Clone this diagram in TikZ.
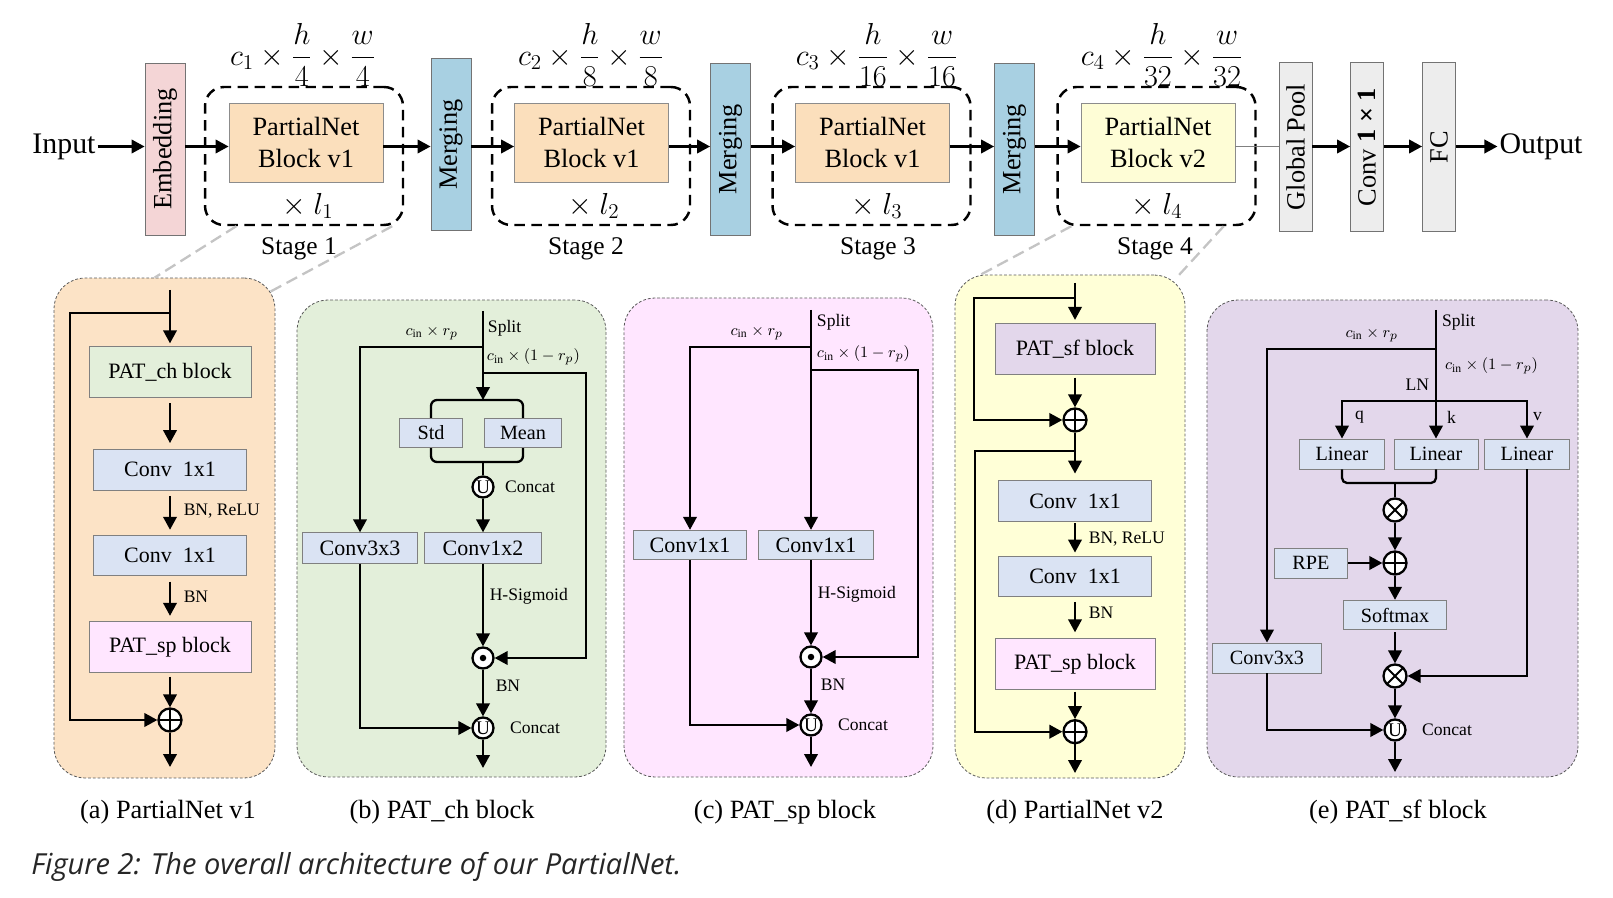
\documentclass[tikz,border=0pt]{standalone}
\usepackage{fontspec}
\usepackage{amsmath}
\usepackage{graphicx}
\setmainfont{Liberation Serif}
\newfontfamily\figfont{Open Sans}
\usetikzlibrary{arrows.meta, positioning}

\definecolor{embpink}{HTML}{F4D5D6}
\definecolor{mrgblue}{HTML}{A8D0E2}
\definecolor{blkorange}{HTML}{FBDFBC}
\definecolor{blkyellow}{HTML}{FEFDD6}
\definecolor{poolgray}{HTML}{EDEDED}
\definecolor{bgorange}{HTML}{FCE3C6}
\definecolor{bggreen}{HTML}{E3EFDA}
\definecolor{bgpink}{HTML}{FFE6FF}
\definecolor{bgyellow}{HTML}{FFFFD7}
\definecolor{bgpurple}{HTML}{E3D7EB}
\definecolor{convblue}{HTML}{DAE3F3}
\definecolor{zoomgray}{HTML}{C4C4C4}

\begin{document}
\begin{tikzpicture}[
    x=0.02cm, y=-0.02cm,
    every node/.style={align=center, inner sep=2pt},
    arr/.style={line width=1.3pt, -{Triangle[length=0.26cm, width=0.27cm]}},
    lin/.style={line width=1.3pt},
    gapped/.style={shorten <=0.11cm, shorten >=0.11cm},
    bar/.style={draw=black!55, line width=0.5pt, minimum width=0.8cm, minimum height=3.44cm, inner sep=0pt, font=\fontsize{15}{18}\selectfont},
    slim/.style={bar, minimum width=0.66cm, minimum height=3.38cm, fill=poolgray},
    blk/.style={draw=black!45, line width=0.5pt, minimum width=3.08cm, minimum height=1.58cm, font=\fontsize{15}{18}\selectfont},
    stage/.style={draw, line width=1.4pt, dash pattern=on 0.21cm off 0.13cm, rounded corners=0.38cm, minimum width=3.96cm, minimum height=2.76cm},
    dims/.style={font=\fontsize{16.5}{19}\selectfont},
    big/.style={font=\fontsize{14.5}{17}\selectfont},
    mult/.style={font=\fontsize{17.5}{20}\selectfont},
    io/.style={font=\fontsize{17}{20}\selectfont, inner sep=1pt},
    panel/.style={draw=black!65, line width=0.45pt, dash pattern=on 1.6pt off 1.1pt, rounded corners=0.62cm},
    zoomln/.style={draw=zoomgray, line width=1.3pt, dash pattern=on 0.24cm off 0.12cm},
    box/.style={draw=black!50, line width=0.5pt, inner sep=0pt, font=\fontsize{12.5}{15}\selectfont},
    sbox/.style={box, font=\fontsize{11.5}{14}\selectfont},
    lbl/.style={font=\fontsize{10}{12}\selectfont, inner sep=1.5pt},
    mlbl/.style={font=\fontsize{9.5}{11}\selectfont, inner sep=1.5pt},
    op/.style={draw, circle, line width=1.3pt, fill=white, minimum size=0.42cm, inner sep=0pt},
    plusop/.style={op, minimum size=0.46cm, path picture={\draw[black, line width=1.1pt]
        (path picture bounding box.north) -- (path picture bounding box.south)
        (path picture bounding box.west) -- (path picture bounding box.east);}},
    timesop/.style={op, minimum size=0.46cm, path picture={\draw[black, line width=1.1pt]
        (path picture bounding box.north west) -- (path picture bounding box.south east)
        (path picture bounding box.north east) -- (path picture bounding box.south west);}},
    dotop/.style={op, path picture={\fill[black] (path picture bounding box.center) circle (0.065cm);}},
    catop/.style={op, font=\fontsize{11}{11}\selectfont},
    subcap/.style={font=\fontsize{15}{18}\selectfont}
]
    \path[fill=white] (0,0) rectangle (1613,898);
    \useasboundingbox (0,0) rectangle (1613,898);

    % panels
    \node[panel, fill=bgorange, minimum width=4.42cm, minimum height=10cm] (pa) at (164.5, 528) {};
    \node[panel, fill=bggreen, minimum width=6.18cm, minimum height=9.54cm] (pb) at (451.5, 538.5) {};
    \node[panel, fill=bgpink, minimum width=6.18cm, minimum height=9.58cm] (pc) at (778.5, 537.5) {};
    \node[panel, fill=bgyellow, minimum width=4.6cm, minimum height=10.06cm] (pd) at (1070, 526.5) {};
    \node[panel, fill=bgpurple, minimum width=7.42cm, minimum height=9.54cm] (pe) at (1392.5, 538.5) {};

    % top row
    \coordinate (axis) at (0, 146.5);
    \node[io] (inp) at (64, 146.5) {Input};
    \node[bar, fill=embpink] (emb) at (165, 149) {\rotatebox{90}{Embedding}};
    \node[stage] (st1) at (304, 156) {};
    \node[stage] (st2) at (591, 156) {};
    \node[stage] (st3) at (871.5, 156) {};
    \node[stage] (st4) at (1156.5, 156) {};
    \node[blk, fill=blkorange] (b1) at (306, 142.5) {PartialNet\\Block v1};
    \node[blk, fill=blkorange] (b2) at (591.5, 142.5) {PartialNet\\Block v1};
    \node[blk, fill=blkorange] (b3) at (872.5, 142.5) {PartialNet\\Block v1};
    \node[blk, fill=blkyellow] (b4) at (1158, 142.5) {PartialNet\\Block v2};
    \node[bar, fill=mrgblue] (m1) at (451, 144.5) {\rotatebox{90}{Merging}};
    \node[bar, fill=mrgblue] (m2) at (730.5, 149) {\rotatebox{90}{Merging}};
    \node[bar, fill=mrgblue] (m3) at (1014.5, 149) {\rotatebox{90}{Merging}};
    \node[slim] (gp) at (1295.5, 147) {\rotatebox{90}{Global Pool}};
    \node[slim] (cv) at (1367, 147) {\rotatebox{90}{Conv \textbf{1 × 1}}};
    \node[slim] (fc) at (1439, 147) {\rotatebox{90}{FC}};
    \node[io] (outp) at (1541, 146.5) {Output};

    \node[dims] (d1) at (303, 55) {$c_1 \times \dfrac{h}{4} \times \dfrac{w}{4}$};
    \node[dims] (d2) at (591, 55) {$c_2 \times \dfrac{h}{8} \times \dfrac{w}{8}$};
    \node[dims] (d3) at (877, 55) {$c_3 \times \dfrac{h}{16} \times \dfrac{w}{16}$};
    \node[dims] (d4) at (1162, 55) {$c_4 \times \dfrac{h}{32} \times \dfrac{w}{32}$};
    \node[mult] (n1) at (308, 206) {$\times\ l_1$};
    \node[mult] (n2) at (594, 206) {$\times\ l_2$};
    \node[mult] (n3) at (877, 206) {$\times\ l_3$};
    \node[mult] (n4) at (1157, 206) {$\times\ l_4$};
    \node[big] (s1) at (299, 249) {Stage 1};
    \node[big] (s2) at (586, 249) {Stage 2};
    \node[big] (s3) at (878, 249) {Stage 3};
    \node[big] (s4) at (1155, 249) {Stage 4};

    \draw[arr] (inp) -- (emb.west |- axis);
    \draw[arr] (emb.east |- axis) -- (b1.west |- axis);
    \draw[arr] (b1.east |- axis) -- (m1.west |- axis);
    \draw[arr] (m1.east |- axis) -- (b2.west |- axis);
    \draw[arr] (b2.east |- axis) -- (m2.west |- axis);
    \draw[arr] (m2.east |- axis) -- (b3.west |- axis);
    \draw[arr] (b3.east |- axis) -- (m3.west |- axis);
    \draw[arr] (m3.east |- axis) -- (b4.west |- axis);
    \draw[black!50, line width=0.6pt] (b4.east |- axis) -- (gp.west |- axis);
    \draw[arr] (gp.east |- axis) -- (cv.west |- axis);
    \draw[arr] (cv.east |- axis) -- (fc.west |- axis);
    \draw[arr] (fc.east |- axis) -- (outp);

    % zoom lines
    \draw[zoomln] ([xshift=0.65cm]st1.south west) -- ([xshift=2.02cm]pa.north west);
    \draw[zoomln] ([xshift=-0.24cm]st1.south east) -- ([xshift=-0.1cm, yshift=-0.28cm]pa.north east);
    \draw[zoomln] ([xshift=0.3cm]st4.south west) -- ([xshift=0.52cm]pd.north west);
    \draw[zoomln] ([xshift=-0.66cm]st4.south east) -- ([xshift=-0.14cm, yshift=-0.02cm]pd.north east);

    % (a) PartialNet v1
    \coordinate (a_in) at (170, 290);
    \coordinate (a_fork) at (170, 312.7);
    \node[box, fill=bggreen, minimum width=3.24cm, minimum height=1.01cm] (a_ch) at (170, 372) {PAT\_ch block};
    \node[box, fill=convblue, minimum width=3.06cm, minimum height=0.82cm] (a_c1) at (170, 469.5) {Conv~ 1x1};
    \node[box, fill=convblue, minimum width=3.06cm, minimum height=0.8cm] (a_c2) at (170, 555.7) {Conv~ 1x1};
    \node[box, fill=bgpink, minimum width=3.24cm, minimum height=1.01cm] (a_sp) at (170, 647) {PAT\_sp block};
    \node[plusop] (a_add) at (170, 720) {};
    \coordinate (a_out) at (170, 767);
    \draw[arr, shorten >=0.06cm] (a_in) -- (a_ch);
    \draw[arr] (a_fork) -- ++(-100, 0) |- (a_add);
    \draw[arr, gapped] (a_ch) -- (a_c1);
    \draw[arr, gapped] (a_c1) -- node[lbl, right=0.2cm, pos=0.45] (a_t1) {BN, ReLU} (a_c2);
    \draw[arr, gapped] (a_c2) -- node[lbl, right=0.2cm, pos=0.46] (a_t2) {BN} (a_sp);
    \draw[arr, shorten <=0.08cm] (a_sp) -- (a_add);
    \draw[arr] (a_add) -- (a_out);

    % (b) PAT_ch block
    \coordinate (b_in) at (483, 311);
    \coordinate (b_fl) at (483, 347);
    \coordinate (b_fr) at (483, 373);
    \coordinate (b_top) at (483, 400);
    \node[sbox, fill=convblue, minimum width=1.27cm, minimum height=0.59cm] (b_std) at (431, 433) {Std};
    \node[sbox, fill=convblue, minimum width=1.55cm, minimum height=0.59cm] (b_mean) at (523, 433) {Mean};
    \coordinate (b_bot) at (483, 462);
    \node[catop] (b_cat1) at (483, 487) {U};
    \node[box, fill=convblue, minimum width=2.3cm, minimum height=0.61cm] (b_c3) at (360, 548) {Conv3x3};
    \node[box, fill=convblue, minimum width=2.35cm, minimum height=0.61cm] (b_c12) at (483, 548) {Conv1x2};
    \node[dotop] (b_mul) at (483, 658) {};
    \node[catop] (b_cat2) at (483, 728) {U};
    \coordinate (b_out) at (483, 768);
    \draw[arr] (b_in) -- (b_top);
    \draw[lin, rounded corners=0.12cm] (b_std) |- (b_top) -| (b_mean);
    \draw[lin, rounded corners=0.12cm] (b_std) |- (b_bot) -| (b_mean);
    \draw[lin] (b_bot) -- (b_cat1);
    \draw[arr] (b_cat1) -- (b_c12);
    \draw[arr] (b_fl) -| (b_c3);
    \draw[arr] (b_fr) -- ++(103, 0) |- (b_mul);
    \draw[arr] (b_c12) -- node[lbl, right=0.06cm, pos=0.4] (b_t1) {H-Sigmoid} (b_mul);
    \draw[arr] (b_mul) -- node[lbl, right=0.18cm, pos=0.35] (b_t2) {BN} (b_cat2);
    \draw[arr] (b_c3) |- (b_cat2);
    \draw[arr] (b_cat2) -- (b_out);
    \node[lbl, right] (b_t3) at (485, 328) {Split};
    \node[mlbl, left] (b_t4) at (461, 333) {$c_{\text{in}} \times r_p$};
    \node[mlbl, right] (b_t5) at (484, 357) {$c_{\text{in}} \times (1 - r_p)$};
    \node[lbl, right=0.15cm of b_cat1] (b_t6) {Concat};
    \node[lbl, right=0.25cm of b_cat2] (b_t7) {Concat};

    % (c) PAT_sp block
    \coordinate (c_in) at (811, 310);
    \coordinate (c_fl) at (811, 347);
    \coordinate (c_fr) at (811, 370);
    \node[box, fill=convblue, minimum width=2.27cm, minimum height=0.59cm] (c_cl) at (690, 545) {Conv1x1};
    \node[box, fill=convblue, minimum width=2.29cm, minimum height=0.59cm] (c_cr) at (816, 545) {Conv1x1};
    \node[dotop] (c_mul) at (811, 657) {};
    \node[catop] (c_cat) at (811, 725) {U};
    \coordinate (c_out) at (811, 767);
    \draw[arr] (c_in) -- (c_in |- c_cr.north);
    \draw[arr] (c_fl) -| (c_cl);
    \draw[arr] (c_fr) -- ++(107, 0) |- (c_mul);
    \draw[arr] (c_cr.south -| c_mul) -- node[lbl, right=0.06cm, pos=0.4] (c_t1) {H-Sigmoid} (c_mul);
    \draw[arr] (c_mul) -- node[lbl, right=0.12cm, pos=0.35] (c_t2) {BN} (c_cat);
    \draw[arr] (c_cl) |- (c_cat);
    \draw[arr] (c_cat) -- (c_out);
    \node[lbl, right] (c_t3) at (814, 322) {Split};
    \node[mlbl, left] (c_t4) at (786, 333) {$c_{\text{in}} \times r_p$};
    \node[mlbl, right] (c_t5) at (814, 354) {$c_{\text{in}} \times (1 - r_p)$};
    \node[lbl, right=0.25cm of c_cat] (c_t6) {Concat};

    % (d) PartialNet v2
    \coordinate (d_in) at (1075, 283);
    \coordinate (d_f1) at (1075, 298.3);
    \node[box, fill=bgpurple, minimum width=3.2cm, minimum height=1.02cm] (d_sf) at (1075, 348.8) {PAT\_sf block};
    \node[plusop] (d_add1) at (1075, 420) {};
    \coordinate (d_f2) at (1075, 451);
    \node[box, fill=convblue, minimum width=3.05cm, minimum height=0.82cm] (d_c1) at (1075, 501) {Conv~ 1x1};
    \node[box, fill=convblue, minimum width=3.05cm, minimum height=0.8cm] (d_c2) at (1075, 576) {Conv~ 1x1};
    \node[box, fill=bgpink, minimum width=3.2cm, minimum height=1.03cm] (d_sp) at (1075, 664) {PAT\_sp block};
    \node[plusop] (d_add2) at (1075, 731.7) {};
    \coordinate (d_out) at (1075, 773);
    \draw[arr, shorten >=0.06cm] (d_in) -- (d_sf);
    \draw[arr] (d_f1) -- ++(-101, 0) |- (d_add1);
    \draw[arr, shorten <=0.06cm] (d_sf) -- (d_add1);
    \draw[arr, shorten >=0.13cm] (d_add1) -- (d_c1);
    \draw[arr] (d_f2) -- ++(-100, 0) |- (d_add2);
    \draw[arr, shorten <=0.03cm, shorten >=0.06cm] (d_c1) -- node[lbl, right=0.2cm, pos=0.52] (d_t1) {BN, ReLU} (d_c2);
    \draw[arr, gapped] (d_c2) -- node[lbl, right=0.2cm, pos=0.39] (d_t2) {BN} (d_sp);
    \draw[arr, shorten <=0.03cm] (d_sp) -- (d_add2);
    \draw[arr] (d_add2) -- (d_out);

    % (e) PAT_sf block
    \coordinate (e_in) at (1436, 310);
    \coordinate (e_fl) at (1436, 349);
    \coordinate (e_fork) at (1436, 401);
    \node[sbox, fill=convblue, minimum width=1.71cm, minimum height=0.6cm] (e_lq) at (1342, 454) {Linear};
    \node[sbox, fill=convblue, minimum width=1.68cm, minimum height=0.6cm] (e_lk) at (1436, 454) {Linear};
    \node[sbox, fill=convblue, minimum width=1.69cm, minimum height=0.6cm] (e_lv) at (1527, 454) {Linear};
    \coordinate (e_join) at (1395, 483);
    \node[timesop] (e_mul1) at (1395, 510) {};
    \node[plusop] (e_add) at (1395, 563) {};
    \node[sbox, fill=convblue, minimum width=1.47cm, minimum height=0.6cm] (e_rpe) at (1311, 563) {RPE};
    \node[sbox, fill=convblue, minimum width=2.05cm, minimum height=0.59cm] (e_sm) at (1395, 615) {Softmax};
    \node[timesop] (e_mul2) at (1395, 676) {};
    \node[sbox, fill=convblue, minimum width=2.17cm, minimum height=0.6cm] (e_c3) at (1267, 658) {Conv3x3};
    \node[catop] (e_cat) at (1395, 730) {U};
    \coordinate (e_out) at (1395, 772);
    \draw[arr] (e_in) -- (e_lk);
    \draw[arr] (e_fl) -| (e_c3);
    \draw[arr] (e_fork) -| (e_lq);
    \draw[arr] (e_fork) -| (e_lv);
    \draw[lin, rounded corners=0.1cm] (e_lq) |- (e_join) -| (e_lk);
    \draw[lin] (e_join) -- (e_mul1);
    \draw[arr] (e_mul1) -- (e_add);
    \draw[arr] (e_rpe) -- (e_add);
    \draw[arr] (e_add) -- (e_sm);
    \draw[arr, shorten <=0.04cm] (e_sm) -- (e_mul2);
    \draw[arr] (e_lv) |- (e_mul2);
    \draw[arr] (e_mul2) -- (e_cat);
    \draw[arr] (e_c3) |- (e_cat);
    \draw[arr] (e_cat) -- (e_out);
    \node[lbl, right] (e_t1) at (1439, 322) {Split};
    \node[mlbl, left] (e_t2) at (1401, 335) {$c_{\text{in}} \times r_p$};
    \node[mlbl, right] (e_t3) at (1442, 366) {$c_{\text{in}} \times (1 - r_p)$};
    \node[lbl, left] (e_t4) at (1432, 385) {LN};
    \node[lbl, right] (e_q) at (1352, 417) {q};
    \node[lbl, right] (e_k) at (1444, 417) {k};
    \node[lbl, right] (e_v) at (1530, 417) {v};
    \node[lbl, right=0.25cm of e_cat] (e_t5) {Concat};

    % captions
    \node[subcap] (ca) at (168, 812) {(a) PartialNet v1};
    \node[subcap] (cb) at (442, 812) {(b) PAT\_ch block};
    \node[subcap] (cc) at (785, 812) {(c) PAT\_sp block};
    \node[subcap] (cd) at (1075, 812) {(d) PartialNet v2};
    \node[subcap] (ce) at (1398, 812) {(e) PAT\_sf block};
    \node[anchor=west, inner sep=0pt, text=black!85, font=\figfont\itshape\fontsize{16.5}{19}\selectfont] (fig) at (31, 867) {Figure 2: The overall architecture of our PartialNet.};
\end{tikzpicture}
\end{document}
